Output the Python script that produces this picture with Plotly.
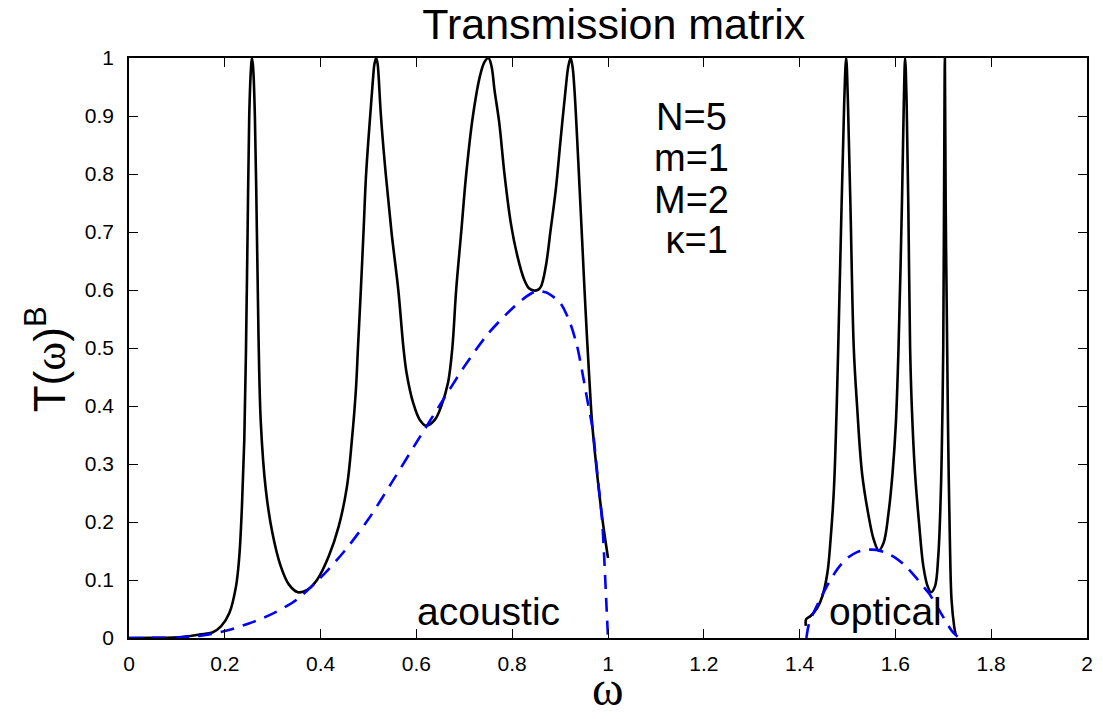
import plotly.graph_objects as go

# ---- data ----
omega_T_ac = [0, 0.05, 0.10, 0.147, 0.175, 0.192, 0.2095, 0.2234, 0.2303, 0.2358,
              0.2407, 0.2441, 0.2476, 0.251, 0.2545, 0.2566, 0.259, 0.2628, 0.267, 0.2704,
              0.2752, 0.2856, 0.2994, 0.3167, 0.334, 0.3527, 0.372, 0.3928, 0.417, 0.4378,
              0.455, 0.4654, 0.4737, 0.478, 0.484, 0.4896, 0.495, 0.5035, 0.509, 0.5125, 0.516,
              0.519, 0.521, 0.526, 0.536, 0.548, 0.5622, 0.573, 0.5795, 0.5934, 0.6072, 0.621,
              0.6383, 0.652, 0.666, 0.675, 0.683, 0.6936, 0.704, 0.718, 0.733, 0.742, 0.7504,
              0.757, 0.763, 0.773, 0.7836, 0.797, 0.811, 0.825, 0.835, 0.8458, 0.853, 0.86, 0.87, 0.8803,
              0.891, 0.901, 0.9114, 0.917, 0.9219, 0.926, 0.930, 0.9357, 0.941, 0.946,
              0.951, 0.9564, 0.9615, 0.9668, 0.9772, 0.9875, 1.0]
T_ac = [0, 0.0002, 0.001, 0.006, 0.01, 0.02, 0.043, 0.089, 0.141, 0.227,
        0.342, 0.49, 0.70, 0.90, 0.98, 1.0, 0.985, 0.90, 0.70, 0.52,
        0.371, 0.256, 0.181, 0.124, 0.092, 0.079, 0.083, 0.1006, 0.141, 0.1925,
        0.261, 0.342, 0.428, 0.50, 0.60, 0.70, 0.80, 0.90, 0.96, 0.99, 1.0,
        0.99, 0.97, 0.90, 0.80, 0.70, 0.60, 0.50, 0.457, 0.405, 0.376, 0.366,
        0.376, 0.40, 0.44, 0.50, 0.60, 0.70, 0.80, 0.90, 0.97, 0.993, 1.0,
        0.985, 0.945, 0.888, 0.802, 0.716, 0.658, 0.618, 0.603, 0.599, 0.60, 0.606, 0.64, 0.704,
        0.773, 0.859, 0.945, 0.985, 1.0, 0.985, 0.945, 0.859, 0.77, 0.686,
        0.60, 0.514, 0.44, 0.371, 0.284, 0.21, 0.138]

omega_T_op = [1.413, 1.4136, 1.423, 1.437, 1.4475, 1.458, 1.4647, 1.4716, 1.4765, 1.4806,
              1.4876, 1.493, 1.4972, 1.501, 1.5062, 1.5131, 1.52, 1.5304, 1.5442, 1.5546,
              1.565, 1.5753, 1.5857, 1.594, 1.601, 1.6065, 1.6135, 1.6175, 1.6203, 1.6235,
              1.627, 1.6307, 1.6342, 1.641, 1.6494, 1.6583, 1.6674, 1.6743, 1.6826, 1.6895,
              1.695, 1.6978, 1.6999, 1.7015, 1.7033, 1.705, 1.7081, 1.7102, 1.7137, 1.7172,
              1.7227, 1.726]
T_op = [0.021, 0.032, 0.038, 0.052, 0.072, 0.112, 0.17, 0.256, 0.371, 0.5,
        0.744, 0.92, 1.0, 0.92, 0.744, 0.5, 0.40, 0.284, 0.21, 0.17,
        0.151, 0.164, 0.216, 0.284, 0.371, 0.5, 0.744, 0.92, 1.0, 0.92,
        0.744, 0.5, 0.40, 0.284, 0.198, 0.124, 0.089, 0.079, 0.089, 0.141,
        0.256, 0.371, 0.5, 0.744, 1.0, 0.744, 0.5, 0.342, 0.17, 0.066,
        0.02, 0.005]

omega_env_ac = [0, 0.05, 0.10, 0.15, 0.20, 0.25, 0.30, 0.35, 0.40, 0.45, 0.50, 0.55,
                0.60, 0.65, 0.70, 0.75, 0.80, 0.83, 0.85, 0.87, 0.90, 0.92, 0.935,
                0.948, 0.958, 0.968, 0.978, 0.9875, 0.992, 0.996, 1.0]
env_ac = [0, 0.0002, 0.001, 0.004, 0.012, 0.025, 0.042, 0.066, 0.104, 0.15, 0.205, 0.27,
          0.337, 0.403, 0.468, 0.525, 0.568, 0.589, 0.598, 0.596, 0.578, 0.545, 0.505,
          0.451, 0.405, 0.36, 0.28, 0.205, 0.14, 0.07, 0]

omega_env_op = [1.4142, 1.416, 1.42, 1.43, 1.44, 1.46, 1.48, 1.50, 1.52, 1.54, 1.56, 1.58,
                1.60, 1.62, 1.64, 1.66, 1.67, 1.68, 1.69, 1.70, 1.71, 1.72, 1.73, 1.7321]
env_op = [0, 0.01, 0.026, 0.045, 0.062, 0.094, 0.12, 0.138, 0.148, 0.152, 0.152, 0.147,
          0.138, 0.125, 0.107, 0.087, 0.077, 0.064, 0.05, 0.036, 0.022, 0.01, 0.002, 0]

x_ticks = [0, 0.2, 0.4, 0.6, 0.8, 1, 1.2, 1.4, 1.6, 1.8, 2]
x_ticklabels = ["0", "0.2", "0.4", "0.6", "0.8", "1", "1.2", "1.4", "1.6", "1.8", "2"]
y_ticks = [0, 0.1, 0.2, 0.3, 0.4, 0.5, 0.6, 0.7, 0.8, 0.9, 1]
y_ticklabels = ["0", "0.1", "0.2", "0.3", "0.4", "0.5", "0.6", "0.7", "0.8", "0.9", "1"]

params = ["N=5", "m=1", "M=2", " κ=1"]
param_y = [0.899, 0.828, 0.756, 0.687]
band_labels = ["acoustic", "optical"]
band_x = [0.75, 1.58]

SANS = "Liberation Sans, Arial, sans-serif"
SERIF = "Liberation Serif, Times New Roman, serif"

fig = go.Figure()
black = dict(color="black", width=2.6, shape="spline", smoothing=1.0)
blue = dict(color="#0000ff", width=2.6, dash="14px,9px", shape="spline", smoothing=0.8)
fig.add_trace(go.Scatter(x=omega_T_ac, y=T_ac, mode="lines", line=black, showlegend=False))
fig.add_trace(go.Scatter(x=omega_T_op, y=T_op, mode="lines", line=black, showlegend=False))
fig.add_trace(go.Scatter(x=omega_env_ac, y=env_ac, mode="lines", line=blue, showlegend=False))
fig.add_trace(go.Scatter(x=omega_env_op, y=env_op, mode="lines", line=blue, showlegend=False))

for txt, yy in zip(params, param_y):
    fig.add_annotation(x=1.174, y=yy, xref="x", yref="y", text=txt, showarrow=False,
                       xanchor="center", yanchor="middle",
                       font=dict(family=SANS, size=38, color="black"))
for txt, xx in zip(band_labels, band_x):
    fig.add_annotation(x=xx, y=0.045, xref="x", yref="y", text=txt, showarrow=False,
                       xanchor="center", yanchor="middle",
                       font=dict(family=SANS, size=39, color="black"))

# y-axis label as rotated annotation
fig.add_annotation(x=-0.087, y=0.48, xref="paper", yref="paper",
                   text='T(<span style="font-family:Liberation Serif">ω</span>)<sup>B</sup>',
                   textangle=-90, showarrow=False, xanchor="center", yanchor="middle",
                   font=dict(family=SANS, size=44, color="black"))

# x-axis label
fig.add_annotation(x=0.5, y=-0.087, xref="paper", yref="paper", text="ω",
                   showarrow=False, xanchor="center", yanchor="middle",
                   font=dict(family=SERIF, size=48, color="black"))

axis_common = dict(showline=True, linecolor="black", linewidth=1.5, mirror="ticks",
                   ticks="inside", ticklen=9, tickwidth=1.2, tickcolor="black",
                   showgrid=False, zeroline=False,
                   tickfont=dict(family=SANS, size=21, color="black"))

fig.update_layout(
    width=1103, height=719,
    margin=dict(l=129, r=10, t=58, b=81),
    paper_bgcolor="white", plot_bgcolor="white",
    title=dict(text="Transmission matrix", x=0.5565, xanchor="center",
               y=1 - 24 / 719, yanchor="middle", yref="container",
               font=dict(family=SANS, size=43, color="black")),
    xaxis=dict(range=[0, 2], tickvals=x_ticks, ticktext=x_ticklabels,
               ticklabelstandoff=6, **axis_common),
    yaxis=dict(range=[0, 1], tickvals=y_ticks, ticktext=y_ticklabels,
               ticklabelstandoff=9, **axis_common),
)

fig.write_html("out.html", config={"displayModeBar": False},
               post_script="document.body.style.margin='0';")
